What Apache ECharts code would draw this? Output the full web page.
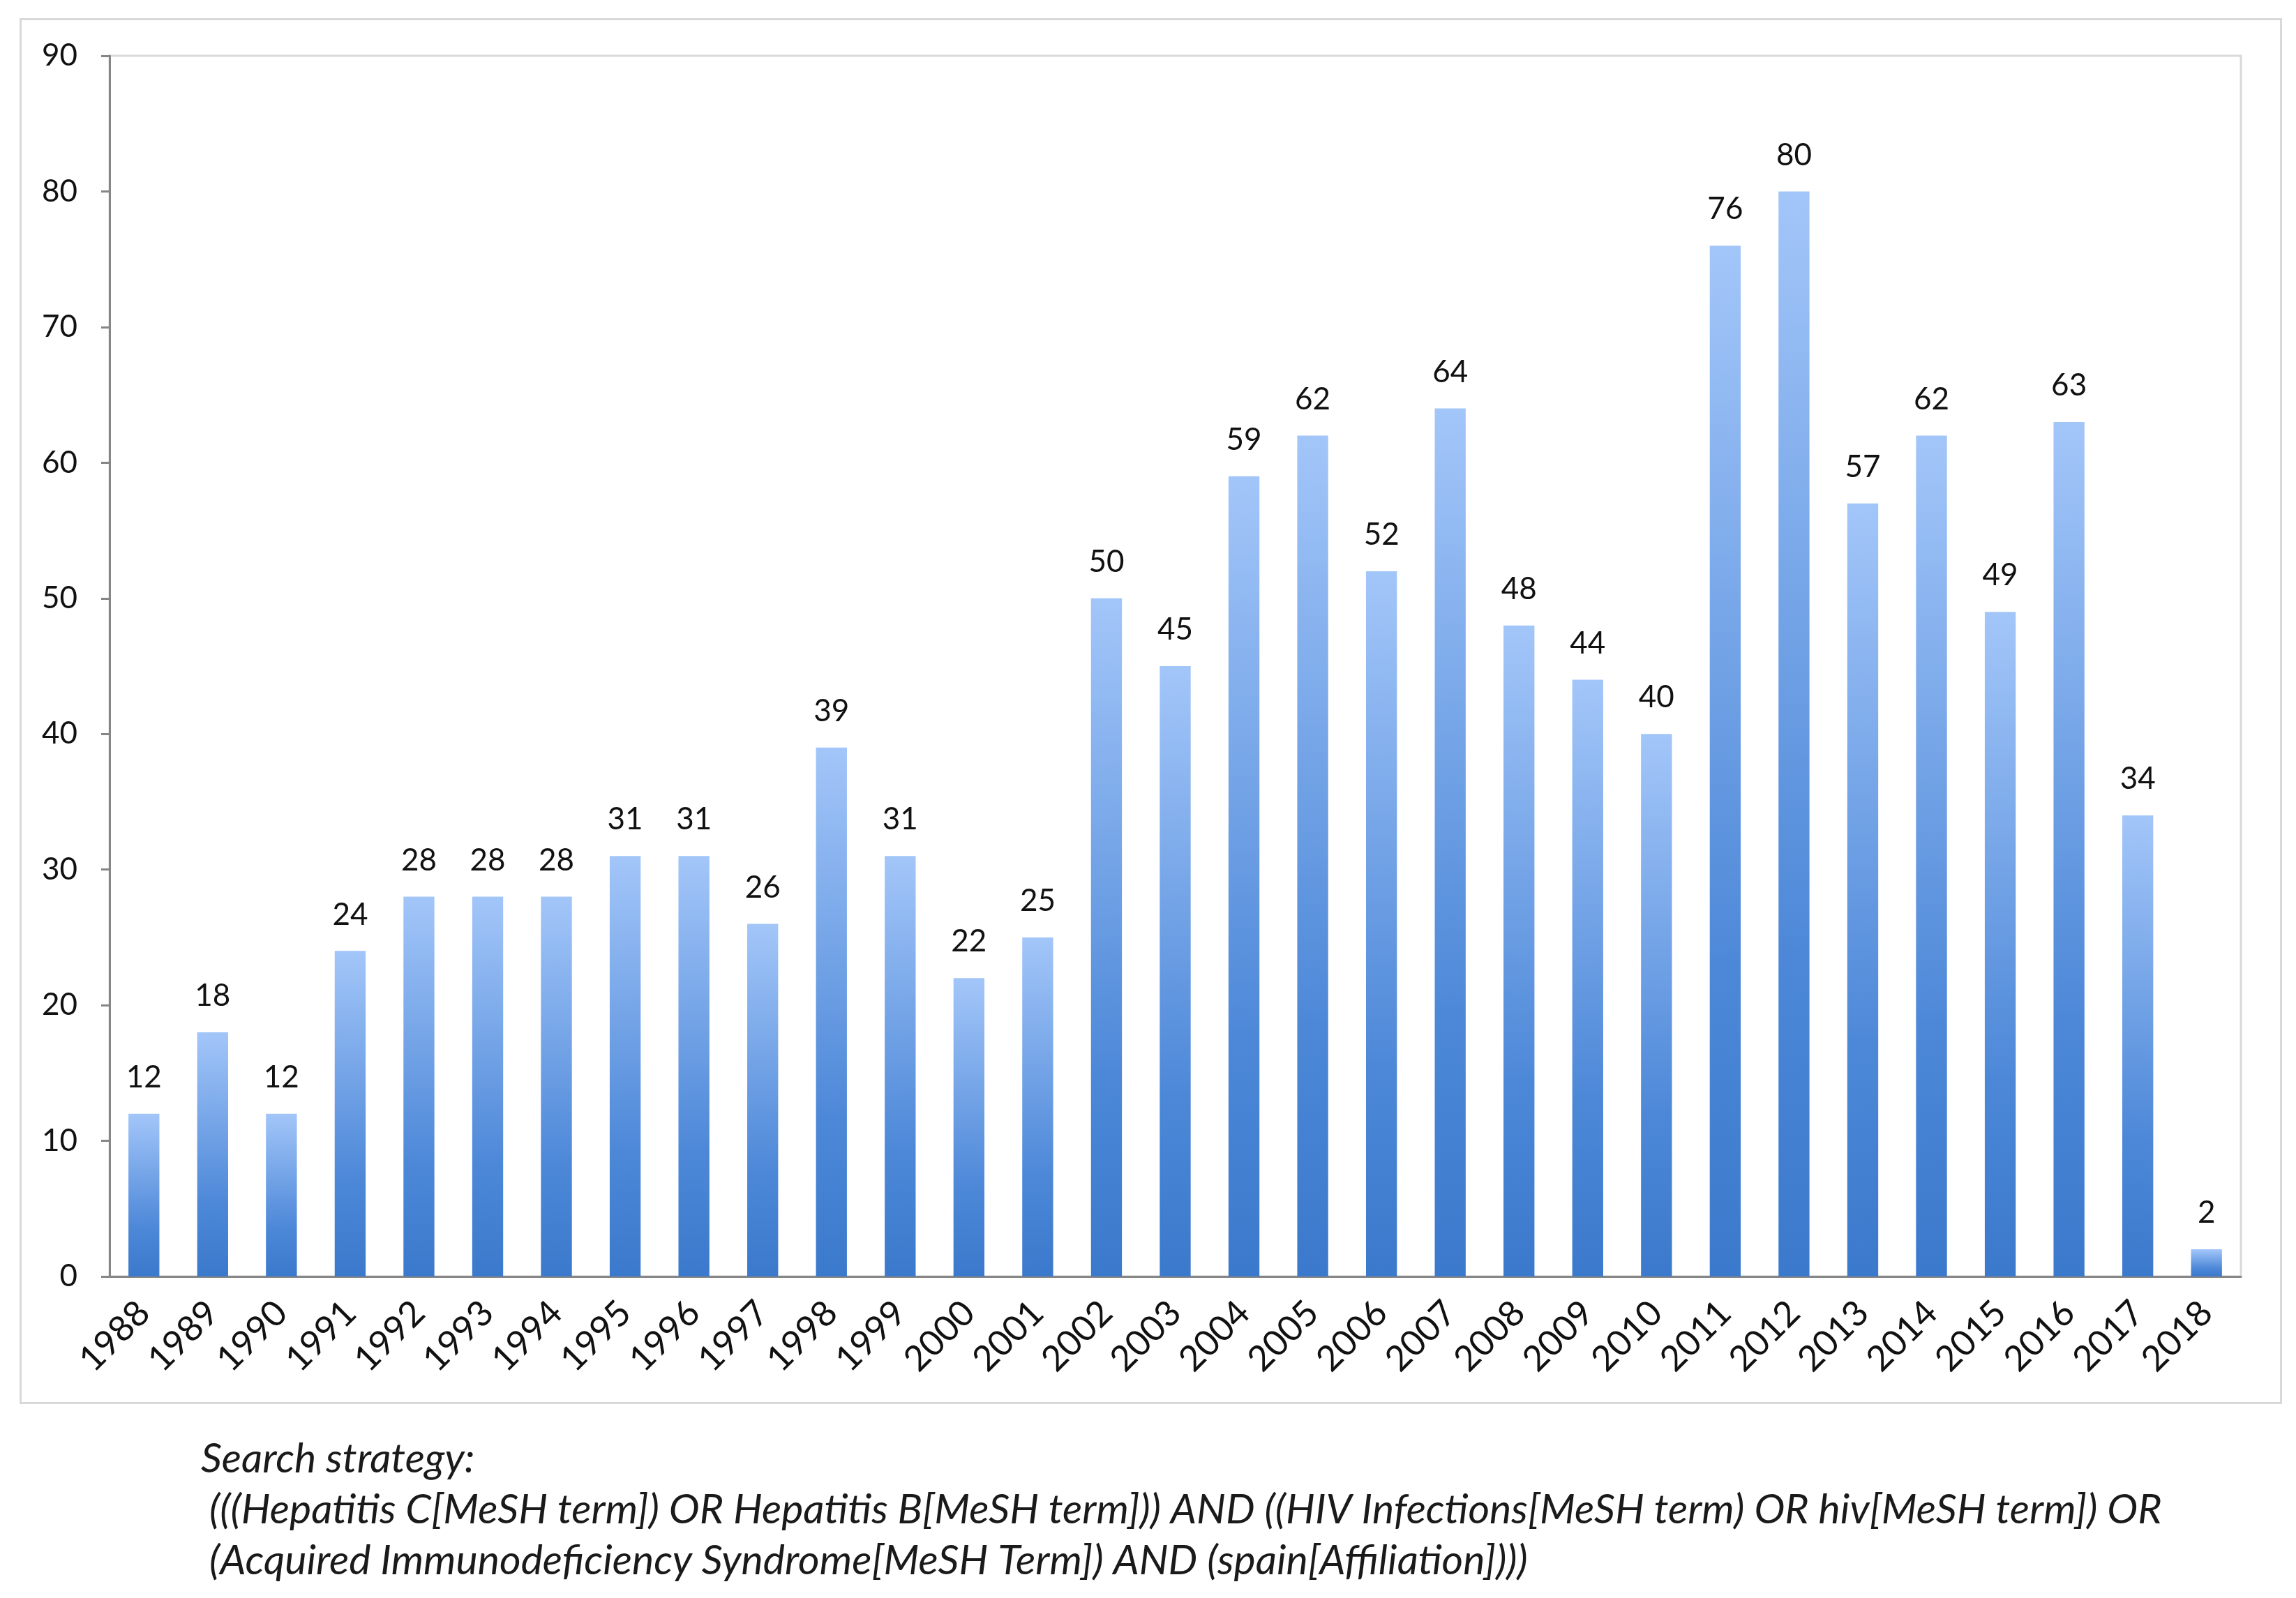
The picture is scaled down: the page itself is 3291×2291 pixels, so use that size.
<!DOCTYPE html>
<html>
<head>
<meta charset="utf-8">
<script src="https://cdn.jsdelivr.net/npm/echarts@6/dist/echarts.min.js"></script>
<style>
  html, body { margin: 0; padding: 0; background: #fff; }
  #main { width: 3291px; height: 2291px; }
</style>
</head>
<body>
<div id="main"></div>
<script>
const years = ['1988', '1989', '1990', '1991', '1992', '1993', '1994', '1995', '1996', '1997',
  '1998', '1999', '2000', '2001', '2002', '2003', '2004', '2005', '2006', '2007',
  '2008', '2009', '2010', '2011', '2012', '2013', '2014', '2015', '2016', '2017', '2018'];
const counts = [12, 18, 12, 24, 28, 28, 28, 31, 31, 26,
  39, 31, 22, 25, 50, 45, 59, 62, 52, 64,
  48, 44, 40, 76, 80, 57, 62, 49, 63, 34, 2];
const captionLines = [
  'Search strategy:',
  '(((Hepatitis C[MeSH term]) OR Hepatitis B[MeSH term])) AND ((HIV Infections[MeSH term) OR hiv[MeSH term]) OR',
  '(Acquired Immunodeficiency Syndrome[MeSH Term]) AND (spain[Affiliation])))',
];

const myChart = echarts.init(document.getElementById('main'));

const font = 'Lato, "Open Sans", sans-serif';
const axisGray = '#868686';
const captionFont = 'italic 59px ' + font;

myChart.setOption({
  animation: false,
  grid: {
    left: 157,
    top: 80,
    right: 79,
    bottom: 461,
    show: true,
    borderColor: '#d9d9d9',
    borderWidth: 3,
    outerBoundsMode: 'none',
  },
  graphic: [
    {
      type: 'rect',
      left: 27,
      top: 25,
      shape: { width: 3240, height: 1984 },
      style: { fill: 'none', stroke: '#d9d9d9', lineWidth: 3 },
      z: -1,
    },
    {
      type: 'text',
      left: 288,
      top: 2062,
      style: { text: captionLines[0], font: captionFont, fill: '#1a1a1a' },
    },
    {
      type: 'text',
      left: 300,
      top: 2135,
      style: { text: captionLines[1], font: captionFont, fill: '#1a1a1a' },
    },
    {
      type: 'text',
      left: 300,
      top: 2208,
      style: { text: captionLines[2], font: captionFont, fill: '#1a1a1a' },
    },
  ],
  xAxis: {
    type: 'category',
    data: years,
    axisLine: { lineStyle: { color: axisGray, width: 3 } },
    axisTick: { length: 14, lineStyle: { color: axisGray, width: 3 } },
    axisLabel: {
      rotate: 45,
      margin: 44,
      fontSize: 51,
      fontFamily: font,
      color: '#111',
    },
  },
  yAxis: {
    type: 'value',
    min: 0,
    max: 90,
    interval: 10,
    splitLine: { show: false },
    axisLine: { show: true, lineStyle: { color: axisGray, width: 3 } },
    axisTick: { show: true, length: 12, lineStyle: { color: axisGray, width: 3 } },
    axisLabel: {
      margin: 46,
      fontSize: 44,
      fontFamily: font,
      color: '#111',
    },
  },
  series: [
    {
      type: 'bar',
      data: counts,
      barWidth: '45%',
      itemStyle: {
        color: new echarts.graphic.LinearGradient(0, 0, 0, 1, [
          { offset: 0, color: '#a3c6f9' },
          { offset: 0.7, color: '#4d88d8' },
          { offset: 1, color: '#3b79cc' },
        ]),
      },
      label: {
        show: true,
        position: 'top',
        distance: 30,
        fontSize: 44,
        fontFamily: font,
        color: '#111',
      },
    },
  ],
});
</script>
</body>
</html>
